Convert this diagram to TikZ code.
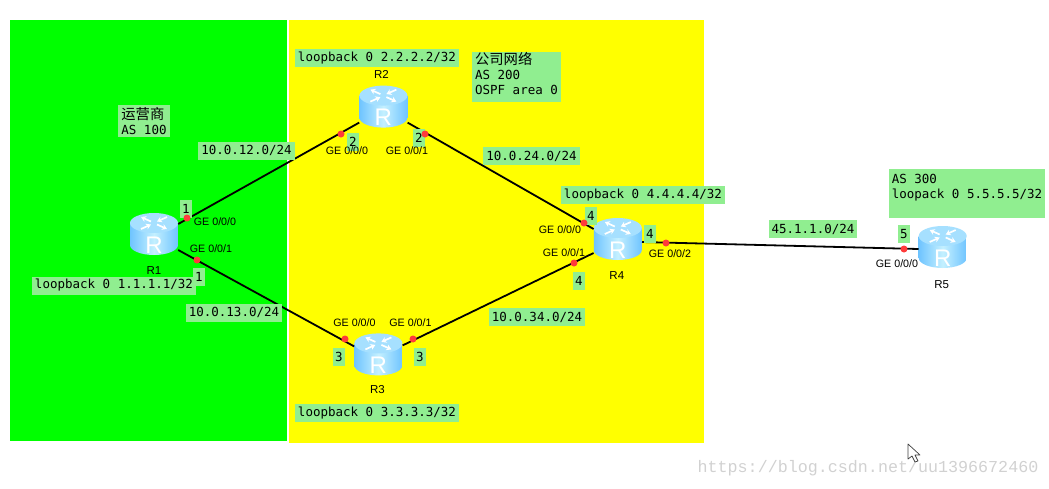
\documentclass[tikz,border=0pt]{standalone}
\usepackage{fontspec}
\usepackage{xcolor}
\setmainfont{Liberation Sans}
\setmonofont{DejaVu Sans Mono}
\newfontfamily\cjkfont{Noto Sans CJK SC}
\newfontfamily\markfont{Liberation Mono}
\usetikzlibrary{arrows.meta, positioning}

\definecolor{labelgreen}{HTML}{90EE90}
\definecolor{dotred}{HTML}{FF3B3B}
\definecolor{bodyblue}{HTML}{6FC4FF}
\definecolor{bodypale}{HTML}{C4F0FF}
\definecolor{topblue}{HTML}{A6E0FF}
\definecolor{areagreen}{HTML}{00FF00}
\definecolor{areayellow}{HTML}{FFFF00}

\newcommand{\routericon}{%
    \shade [left color=bodyblue, right color=bodyblue, middle color=bodypale]
        (-24pt,11pt) -- (-24pt,-11pt) arc [start angle=180, end angle=360, x radius=24pt, y radius=10pt]
        -- (24pt,11pt) -- cycle;
    \fill [topblue] (0pt,11pt) ellipse [x radius=24pt, y radius=10pt];
    \begin{scope}[white, line width=1.7pt, -{Stealth[length=5pt,width=6pt]}]
        \draw (-3pt,12.5pt) -- (-13pt,17pt);
        \draw (3pt,9.5pt) -- (13pt,5pt);
        \draw (13pt,17pt) -- (3pt,12.5pt);
        \draw (-13pt,5pt) -- (-3pt,9.5pt);
    \end{scope}
    \node [anchor=center, white, font=\fontsize{24}{24}\selectfont, inner sep=0pt] at (0pt,-11pt) {R};
}

\begin{document}
\begin{tikzpicture}[
    x=1pt, y=-1pt,
    font=\fontsize{11}{12}\selectfont,
    node distance=10pt,
    router/.style={
        rectangle,
        minimum width=48pt,
        minimum height=42pt,
        inner sep=0pt,
        path picture={\begin{scope}[shift={(path picture bounding box.center)}]\routericon\end{scope}}
    },
    netlabel/.style={
        rectangle,
        fill=labelgreen,
        align=left,
        inner xsep=3pt,
        inner ysep=0pt,
        minimum height=18pt,
        font=\ttfamily\fontsize{12.5}{15}\selectfont
    },
    numlabel/.style={
        rectangle,
        fill=labelgreen,
        inner sep=0pt,
        minimum width=12pt,
        minimum height=18pt,
        font=\ttfamily\fontsize{12.5}{15}\selectfont
    },
    portlabel/.style={inner sep=0pt, font=\fontsize{10.7}{12}\selectfont},
    namelabel/.style={inner sep=0pt, font=\fontsize{11.5}{12}\selectfont},
    port/.style={circle, fill=dotred, inner sep=0pt, minimum size=7pt},
    link/.style={line width=1.8pt, black}
]
\useasboundingbox (0,0) rectangle (1049,488);

% Areas
\fill [areagreen] (10,20) rectangle (287,441);
\fill [areayellow] (288.7,20) rectangle (704,443);

% Routers
\node (r1) [router] at (154,234) {};
\node (r2) [router, above right=85pt and 181pt of r1] {};
\node (r3) [router, below right=78pt and 176pt of r1] {};
\node (r4) [router, below right=90pt and 186pt of r2] {};
\node (r5) [router, right=276.5pt of r4, yshift=-8pt] {};

\node (n1) [namelabel, below=31pt of r1.center, yshift=-1pt] {R1};
\node (n2) [namelabel, above=28pt of r2.center, xshift=-2pt] {R2};
\node (n3) [namelabel, below=31pt of r3.center, xshift=-1pt] {R3};
\node (n4) [namelabel, below=32pt of r4.center, xshift=-1pt] {R4};
\node (n5) [namelabel, below=33pt of r5.center, xshift=-1pt] {R5};

% Links
\draw [link] ([yshift=10pt]r1.east) -- ([yshift=-16pt]r2.west);
\draw [link] ([yshift=-16pt]r1.east) -- ([yshift=8pt]r3.west);
\draw [link] ([yshift=-16pt]r2.east) -- ([yshift=10pt]r4.west);
\draw [link] ([yshift=9pt]r3.east) -- ([yshift=-14pt]r4.west);
\draw [link] ([yshift=-3pt]r4.east) -- ([yshift=-2pt]r5.west);

% Interface numbers
\node [numlabel] at (186,209) {1};
\node [numlabel] at (199,277) {1};
\node [numlabel] at (353,142) {2};
\node [numlabel] at (419,138) {2};
\node [numlabel] at (339,357) {3};
\node [numlabel] at (420,357) {3};
\node [numlabel] at (591,216) {4};
\node [numlabel] at (650,234) {4};
\node [numlabel] at (579,281) {4};
\node [numlabel] at (904,234) {5};

% Ports
\node (p1a) [port] at (187,218) {};
\node (p1b) [port] at (197,260) {};
\node (p2a) [port] at (341,134) {};
\node (p2b) [port] at (425,134) {};
\node (p3a) [port] at (345,339) {};
\node (p3b) [port] at (413,339) {};
\node (p4a) [port] at (584,223) {};
\node (p4b) [port] at (574,263) {};
\node (p4c) [port] at (666,243) {};
\node (p5a) [port] at (904,249) {};

\node [portlabel] at (215,222) {GE 0/0/0};
\node [portlabel] at (211,249) {GE 0/0/1};
\node [portlabel] at (347,151) {GE 0/0/0};
\node [portlabel] at (407,151) {GE 0/0/1};
\node [portlabel] at (354.5,323) {GE 0/0/0};
\node [portlabel] at (410.5,323) {GE 0/0/1};
\node [portlabel] at (560,230) {GE 0/0/0};
\node [portlabel] at (564,253) {GE 0/0/1};
\node [portlabel] at (670,254) {GE 0/0/2};
\node [portlabel] at (897,264) {GE 0/0/0};

% Networks
\node [netlabel] at (246.5,150.5) {10.0.12.0/24};
\node [netlabel] at (234,312.5) {10.0.13.0/24};
\node [netlabel] at (531.5,156) {10.0.24.0/24};
\node [netlabel] at (537,317) {10.0.34.0/24};
\node [netlabel] at (813,229) {45.1.1.0/24};

% Loopbacks and areas
\node [netlabel] at (114,285.5) {loopback 0 1.1.1.1/32};
\node [netlabel] at (377,58) {loopback 0 2.2.2.2/32};
\node [netlabel] at (377,413) {loopback 0 3.3.3.3/32};
\node [netlabel] at (643,195) {loopback 0 4.4.4.4/32};
\node [netlabel, minimum height=32pt] at (144,121) {{\cjkfont\fontsize{14.3}{15}\selectfont 运营商}\\AS 100};
\node [netlabel, minimum height=48pt] at (516.5,77) {{\cjkfont\fontsize{14.3}{15}\selectfont 公司网络}\\AS 200\\OSPF area 0\\[-7pt]};
\node [netlabel, minimum height=49pt] at (967,193.5) {AS 300\\loopack 0 5.5.5.5/32\\~};

% Watermark and pointer
\node [inner sep=0pt, text=black!18, font=\markfont\fontsize{16.7}{18}\selectfont] at (868,468) {https://blog.csdn.net/uu1396672460};
\draw [fill=white, draw=black!75, line width=0.7pt, line join=round]
    (908,444) -- (908,459) -- (912,456) -- (915,462) -- (918,461) -- (915,455) -- (920,455) -- cycle;

\end{tikzpicture}
\end{document}
